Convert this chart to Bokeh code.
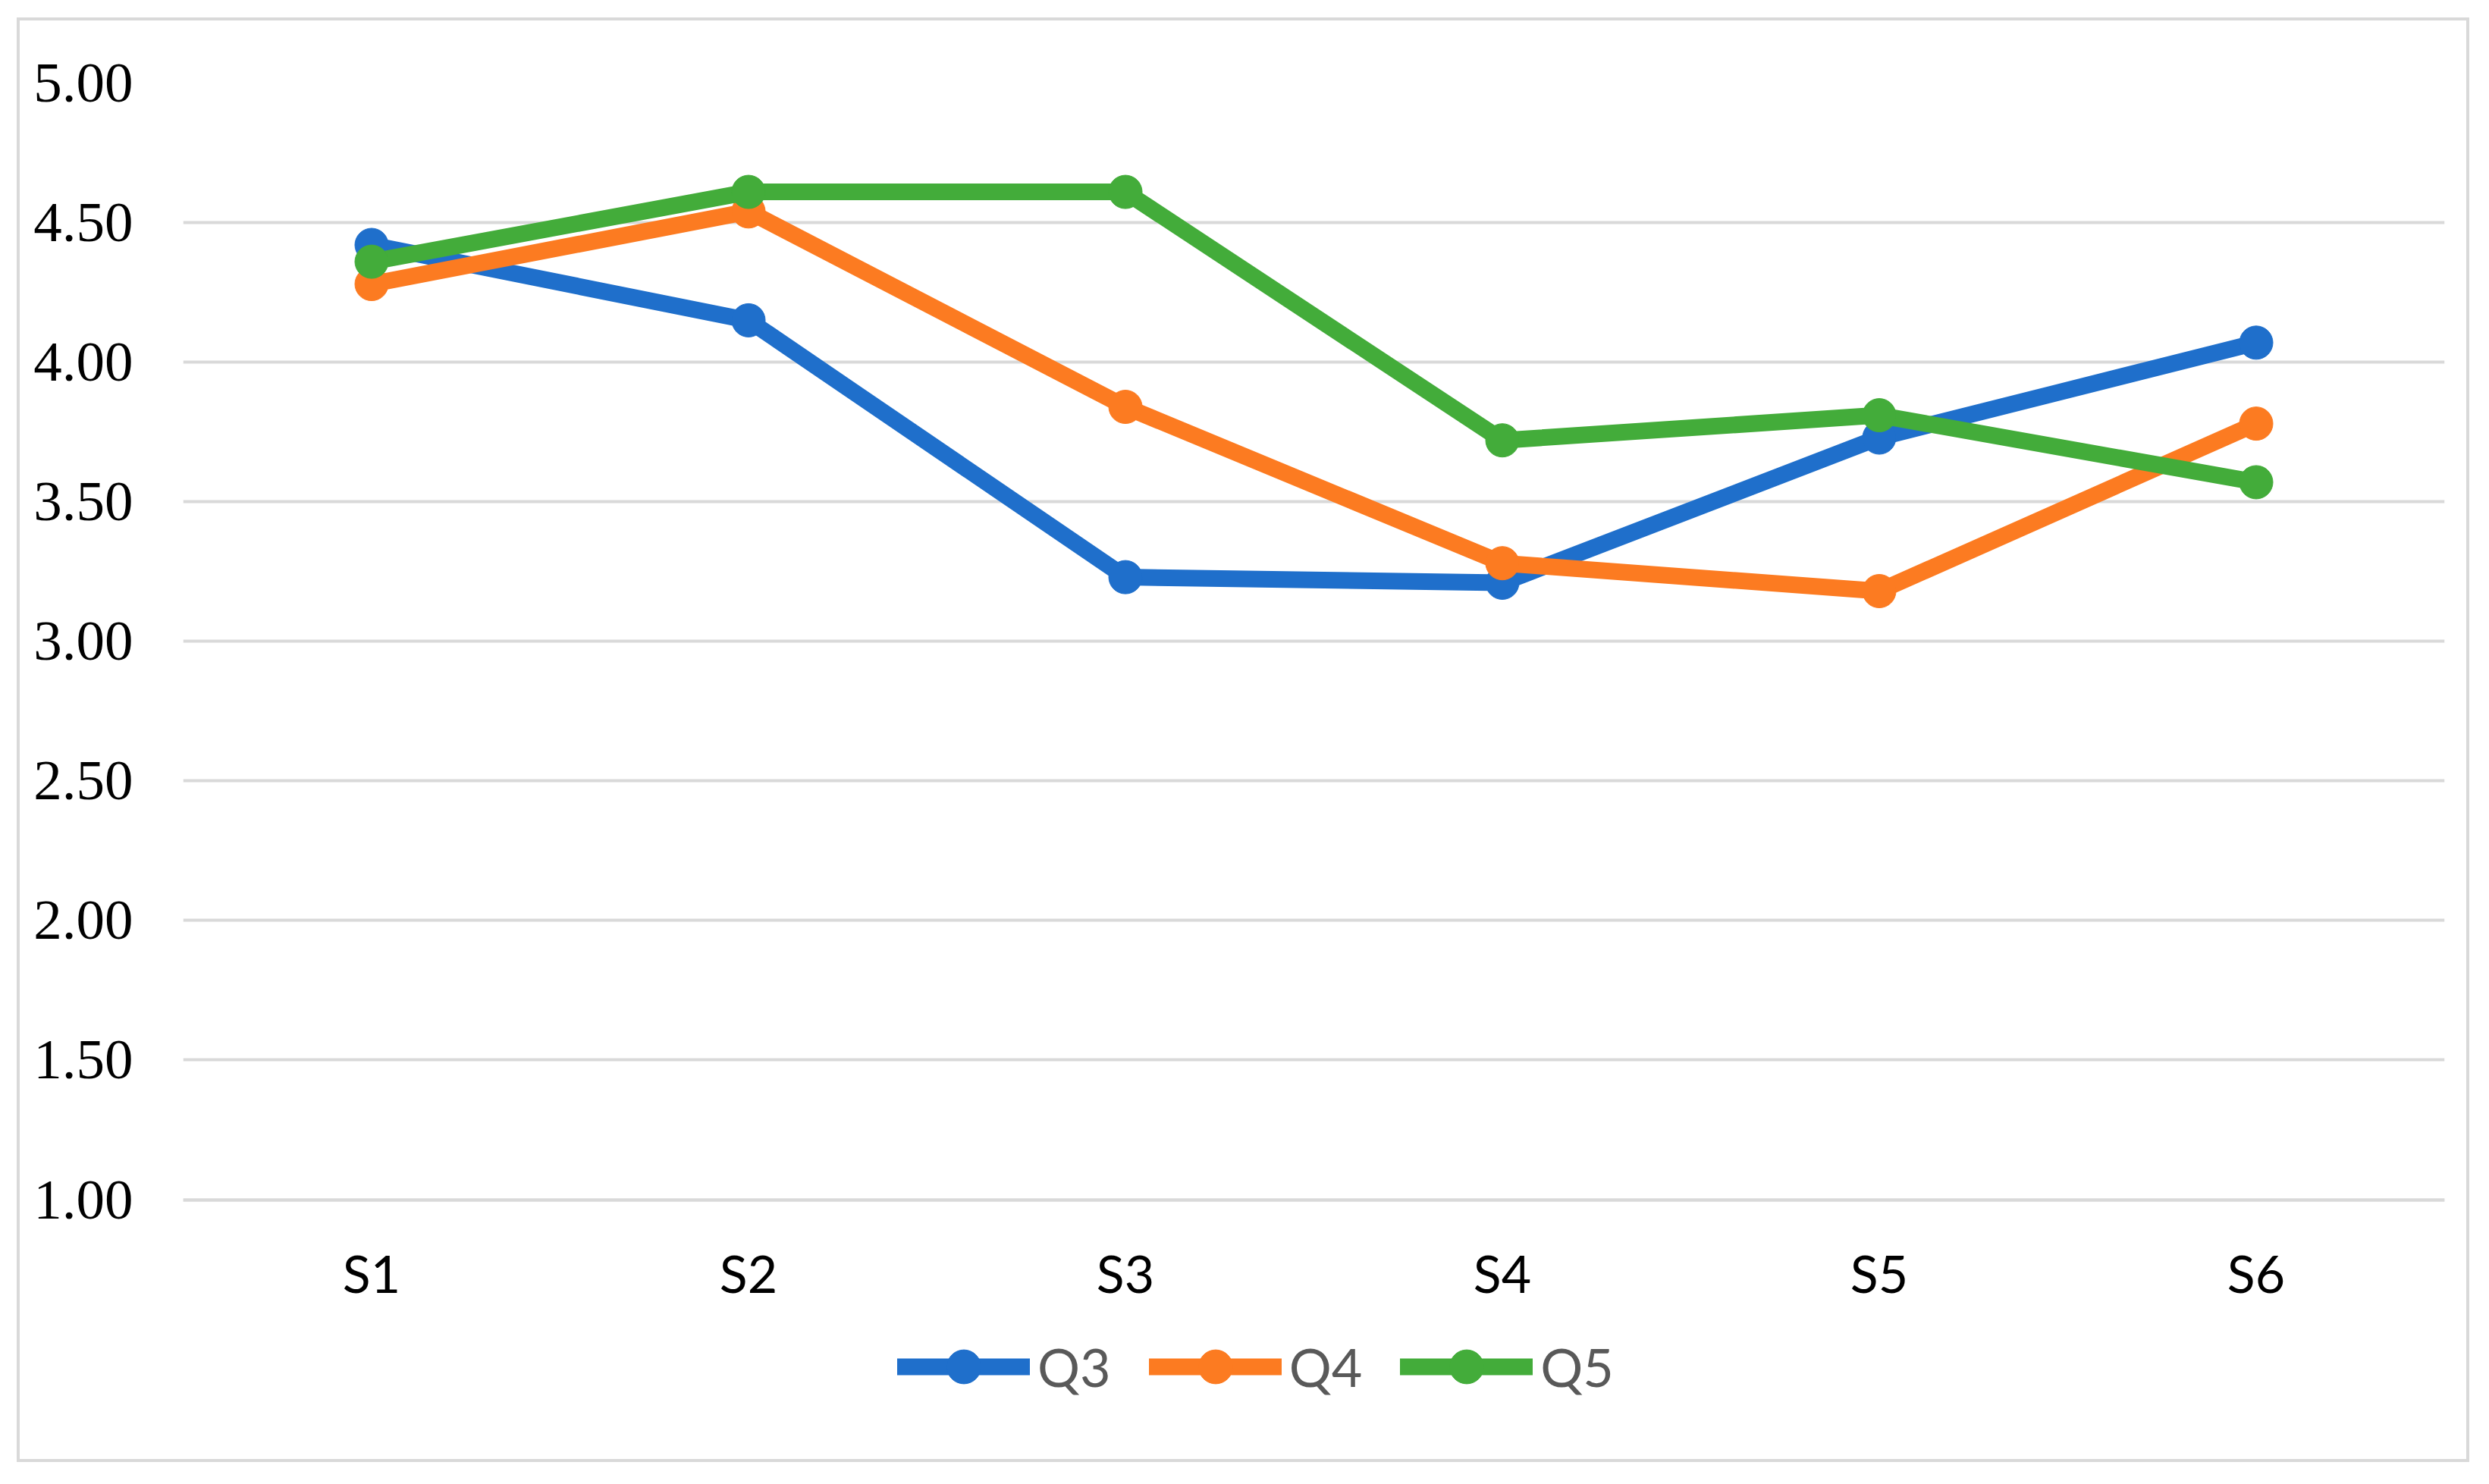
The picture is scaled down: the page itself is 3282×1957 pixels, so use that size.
from bokeh.plotting import figure
from bokeh.models import Legend, LegendItem, FixedTicker, ColumnDataSource, CustomJSTickFormatter
from bokeh.embed import file_html
from bokeh.resources import INLINE

categories = ["S1", "S2", "S3", "S4", "S5", "S6"]
q3 = [4.42, 4.15, 3.23, 3.21, 3.73, 4.07]
q4 = [4.28, 4.54, 3.84, 3.28, 3.18, 3.78]
q5 = [4.36, 4.61, 4.61, 3.72, 3.81, 3.57]
series_names = ["Q3", "Q4", "Q5"]
series_colors = ["#1F6FCB", "#FC7B21", "#43AC3A"]
y_ticks = [1.0, 1.5, 2.0, 2.5, 3.0, 3.5, 4.0, 4.5, 5.0]

p = figure(x_range=categories, y_range=(0.097, 5.0), width=3234, height=1905,
           output_backend="svg", toolbar_location=None,
           min_border_left=215, min_border_right=37, min_border_top=82, min_border_bottom=18)
p.margin = (23, 0, 0, 22)
p.styles = {"border": "4px solid #D9D9D9"}
p.outline_line_color = None
p.background_fill_color = "white"
p.border_fill_color = "white"

p.xgrid.grid_line_color = None
p.ygrid.grid_line_color = "#D9D9D9"
p.ygrid.grid_line_width = 4
p.yaxis.ticker = FixedTicker(ticks=y_ticks)
p.yaxis.formatter = CustomJSTickFormatter(code="return tick.toFixed(2);")
p.yaxis.axis_line_color = None
p.yaxis.major_tick_line_color = None
p.yaxis.minor_tick_line_color = None
p.yaxis.major_label_standoff = 60
p.yaxis.major_label_text_font = "Liberation Serif"
p.yaxis.major_label_text_font_size = "75px"
p.yaxis.major_label_text_color = "#000000"

p.xaxis.fixed_location = 1.0
p.xaxis.axis_line_color = "#D9D9D9"
p.xaxis.axis_line_width = 4
p.xaxis.major_tick_line_color = None
p.xaxis.minor_tick_line_color = None
p.xaxis.major_label_standoff = 50
p.xaxis.major_label_text_font = "Lato"
p.xaxis.major_label_text_font_size = "68px"
p.xaxis.major_label_text_color = "#000000"

items = []
for name, vals, color in zip(series_names, [q3, q4, q5], series_colors):
    src = ColumnDataSource(dict(x=categories, y=vals))
    lr = p.line("x", "y", source=src, line_color=color, line_width=22, line_join="round", line_cap="round")
    sr = p.scatter("x", "y", source=src, marker="circle", size=44, fill_color=color, line_color=color)
    items.append(LegendItem(label=name, renderers=[lr, sr]))

legend = Legend(items=items, orientation="horizontal", location=(942, 56),
                glyph_width=175, glyph_height=112, label_standoff=10, spacing=50,
                padding=0, margin=0, border_line_color=None, background_fill_alpha=0,
                label_text_font="Lato", label_text_font_size="70px", label_text_color="#595959")
p.add_layout(legend, "center")

open("out.html", "w").write(file_html(p, INLINE))
